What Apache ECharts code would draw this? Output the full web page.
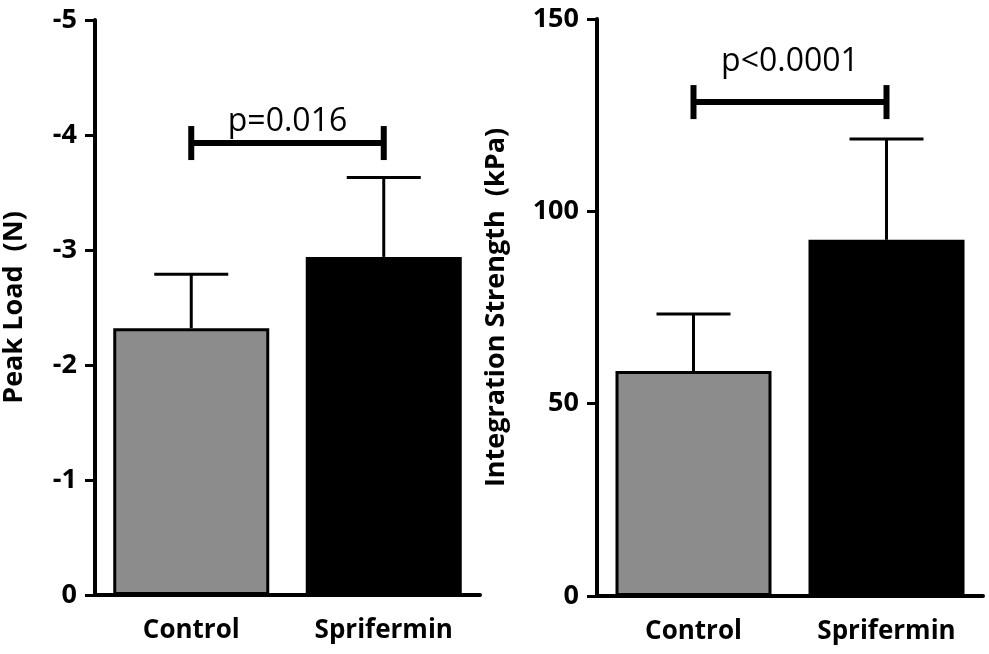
<!DOCTYPE html>
<html>
<head>
<meta charset="utf-8">
<script src="https://cdn.jsdelivr.net/npm/echarts@6/dist/echarts.min.js"></script>
<style>
  html, body { margin: 0; padding: 0; background: #fff; }
  #echart { width: 989px; height: 654px; }
</style>
</head>
<body>
<div id="echart"></div>
<script>
// data
var categories = ['Control', 'Sprifermin'];
var barColors = ['#8c8c8c', '#000000'];

var peakMean = [-2.32, -2.94];
var peakErrTop = [-2.79, -3.63];
var peakTicks = [-5, -4, -3, -2, -1, 0];
var peakP = 'p=0.016';
var peakBracket = -3.93;
var peakPLevel = -4.11;

var strengthMean = [58.5, 92.6];
var strengthErrTop = [73.3, 118.8];
var strengthTicks = [0, 50, 100, 150];
var strengthP = 'p<0.0001';
var strengthBracket = 128.4;
var strengthPLevel = 138.8;

var FONT = '"Open Sans", Lato, sans-serif';

function errorItem(params, api) {
    var x = api.value(0);
    var base = api.coord([x, api.value(1)]);
    var top = api.coord([x, api.value(2)]);
    var half = 37;
    var st = { stroke: '#000', lineWidth: 3 };
    return {
        type: 'group',
        children: [
            { type: 'line', shape: { x1: base[0], y1: base[1], x2: top[0], y2: top[1] }, style: st },
            { type: 'line', shape: { x1: top[0] - half, y1: top[1], x2: top[0] + half, y2: top[1] }, style: st }
        ]
    };
}

function bracketItem(params, api) {
    var a = api.coord([api.value(0), api.value(2)]);
    var b = api.coord([api.value(1), api.value(2)]);
    var ty = api.coord([api.value(0), api.value(3)])[1];
    var st = { stroke: '#000', lineWidth: 6 };
    return {
        type: 'group',
        children: [
            { type: 'line', shape: { x1: a[0], y1: a[1], x2: b[0], y2: b[1] }, style: st },
            { type: 'line', shape: { x1: a[0], y1: a[1] - 17, x2: a[0], y2: a[1] + 17 }, style: st },
            { type: 'line', shape: { x1: b[0], y1: b[1] - 17, x2: b[0], y2: b[1] + 17 }, style: st },
            {
                type: 'text', x: (a[0] + b[0]) / 2, y: ty,
                style: {
                    text: params.seriesIndex === 2 ? peakP : strengthP,
                    fill: '#000', font: '32px ' + FONT,
                    align: 'center', verticalAlign: 'middle'
                }
            }
        ]
    };
}

function makeX(idx) {
    return {
        type: 'category',
        gridIndex: idx,
        data: categories,
        axisLine: { lineStyle: { color: '#000', width: 4 } },
        axisTick: { alignWithLabel: true, length: 10, lineStyle: { color: '#000', width: 3 } },
        axisLabel: { color: '#000', fontSize: 26, fontWeight: 'bold', fontFamily: FONT, margin: 23 },
        splitLine: { show: false }
    };
}

function makeY(idx, ticks, name, gap, inverse) {
    var lo = Math.min.apply(null, ticks), hi = Math.max.apply(null, ticks);
    return {
        type: 'value',
        gridIndex: idx,
        min: lo, max: hi,
        interval: Math.abs(ticks[1] - ticks[0]),
        inverse: inverse,
        name: name,
        nameLocation: 'middle',
        nameGap: gap,
        nameTextStyle: { color: '#000', fontSize: 27, fontWeight: 'bold', fontFamily: FONT },
        axisLine: { show: true, lineStyle: { color: '#000', width: 4 } },
        axisTick: { show: true, length: 10, lineStyle: { color: '#000', width: 3 } },
        axisLabel: { color: '#000', fontSize: 27, fontWeight: 'bold', fontFamily: FONT, margin: 18 },
        splitLine: { show: false }
    };
}

function barData(vals) {
    return vals.map(function (v, i) {
        return { value: v, itemStyle: { color: barColors[i], borderColor: '#000', borderWidth: 3 } };
    });
}

var myChart = echarts.init(document.getElementById('echart'));
var option = {
    backgroundColor: '#fff',
    animation: false,
    grid: [
        { left: 95, right: 509, top: 20, bottom: 59, containLabel: false, outerBoundsMode: 'none' },
        { left: 597, right: 6, top: 19, bottom: 58, containLabel: false, outerBoundsMode: 'none' }
    ],
    xAxis: [makeX(0), makeX(1)],
    yAxis: [
        makeY(0, peakTicks, 'Peak Load  (N)', 67, true),
        makeY(1, strengthTicks, 'Integration Strength  (kPa)', 87, false)
    ],
    series: [
        {
            type: 'bar', xAxisIndex: 0, yAxisIndex: 0, barWidth: 156,
            data: barData(peakMean), z: 2
        },
        {
            type: 'custom', xAxisIndex: 0, yAxisIndex: 0, renderItem: errorItem,
            encode: { x: 0, y: [1, 2] }, z: 3,
            data: peakMean.map(function (m, i) { return [i, m, peakErrTop[i]]; })
        },
        {
            type: 'custom', xAxisIndex: 0, yAxisIndex: 0, renderItem: bracketItem,
            encode: { x: [0, 1], y: [2, 3] }, z: 4,
            data: [[0, 1, peakBracket, peakPLevel]]
        },
        {
            type: 'bar', xAxisIndex: 1, yAxisIndex: 1, barWidth: 156,
            data: barData(strengthMean), z: 2
        },
        {
            type: 'custom', xAxisIndex: 1, yAxisIndex: 1, renderItem: errorItem,
            encode: { x: 0, y: [1, 2] }, z: 3,
            data: strengthMean.map(function (m, i) { return [i, m, strengthErrTop[i]]; })
        },
        {
            type: 'custom', xAxisIndex: 1, yAxisIndex: 1, renderItem: bracketItem,
            encode: { x: [0, 1], y: [2, 3] }, z: 4,
            data: [[0, 1, strengthBracket, strengthPLevel]]
        }
    ]
};
myChart.setOption(option);
window.onresize = myChart.resize;
</script>
</body>
</html>
